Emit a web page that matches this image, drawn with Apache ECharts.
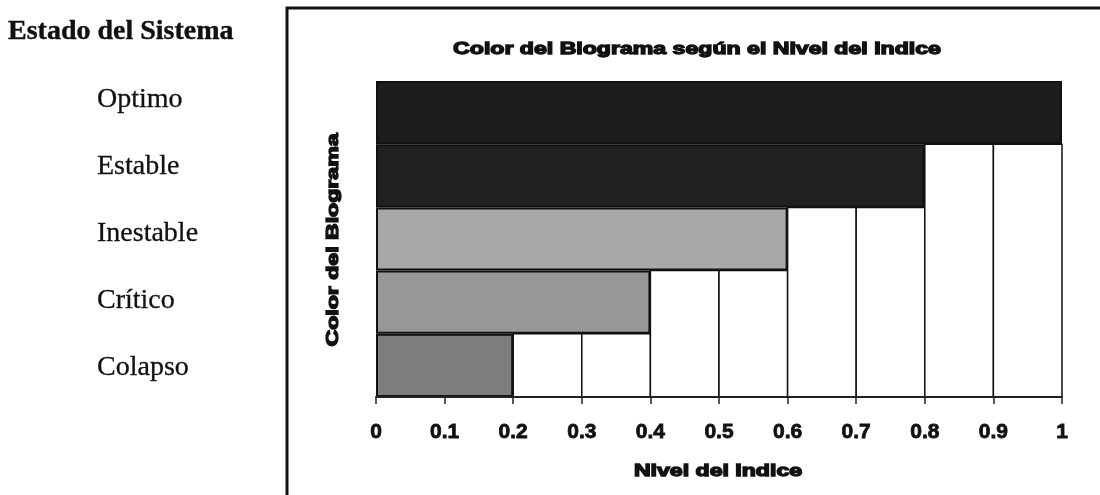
<!DOCTYPE html>
<html>
<head>
<meta charset="utf-8">
<script src="https://cdn.jsdelivr.net/npm/echarts@6/dist/echarts.min.js"></script>
<style>
  html, body { margin: 0; padding: 0; background: #fff; }
  #chart { width: 1100px; height: 495px; }
</style>
</head>
<body>
<div id="chart"></div>
<script>
// System states listed beside the chart (top to bottom)
const encabezado = 'Estado del Sistema';
const estados = ['Optimo', 'Estable', 'Inestable', 'Crítico', 'Colapso'];

// Chart rows, bottom to top, with the index level reached by each colour band
const categorias = ['Colapso', 'Crítico', 'Inestable', 'Estable', 'Optimo'];
const niveles = [0.2, 0.4, 0.6, 0.8, 1.0];
const coloresBarra = ['#7d7d7d', '#979797', '#a9a9a9', '#212121', '#1d1d1d'];

// x-axis ticks and the blank 0.1-wide cells beyond each band
const etiquetasX = ['0', '0.1', '0.2', '0.3', '0.4', '0.5', '0.6', '0.7', '0.8', '0.9', '1'];
const inicioCeldas = [0.2, 0.3, 0.4, 0.5, 0.6, 0.7, 0.8, 0.9];
const anchoCelda = 0.1;

const titulo = 'Color del Biograma según el Nivel del Indice';
const nombreEjeX = 'Nivel del Indice';
const nombreEjeY = 'Color del Biograma';

// Each blank cell rises through every row whose band ends at or before it
const celdas = inicioCeldas.map(s => [s, niveles.filter(v => v <= s + 1e-9).length]);

const chart = echarts.init(document.getElementById('chart'), null, { renderer: 'canvas' });

// heavy, widened sans text used inside the frame
const sansBold = { fontFamily: 'Liberation Sans', fontWeight: 'bold', fill: '#111', stroke: '#111', lineWidth: 1.3 };

const graficos = [
  // frame around the chart area
  { type: 'rect', shape: { x: 287, y: 8, width: 900, height: 600 },
    style: { fill: 'none', stroke: '#111', lineWidth: 3 }, z: 10 },
  { type: 'text', x: 8, y: 32,
    style: { text: encabezado, fontFamily: 'Liberation Serif', fontWeight: 'bold', fontSize: 28,
             fill: '#111', stroke: '#111', lineWidth: 0.4, textAlign: 'left', textVerticalAlign: 'middle' } },
  { type: 'text', x: 697, y: 49, scaleX: 1.4,
    style: Object.assign({ text: titulo, fontSize: 16.5, textAlign: 'center', textVerticalAlign: 'middle' }, sansBold) },
  { type: 'text', x: 718, y: 471, scaleX: 1.4,
    style: Object.assign({ text: nombreEjeX, fontSize: 16.5, textAlign: 'center', textVerticalAlign: 'middle' }, sansBold) },
  { type: 'text', x: 333, y: 240, rotation: Math.PI / 2, scaleX: 1.4,
    style: Object.assign({ text: nombreEjeY, fontSize: 16.5, textAlign: 'center', textVerticalAlign: 'middle' }, sansBold) }
];
const posY = [100, 167, 234, 301, 368];
estados.forEach((e, i) => {
  graficos.push({ type: 'text', x: 97, y: posY[i],
    style: { text: e, fontFamily: 'Liberation Serif', fontSize: 28, fill: '#111', stroke: '#111', lineWidth: 0.3,
             textAlign: 'left', textVerticalAlign: 'middle' } });
});

chart.setOption({
  animation: false,
  backgroundColor: '#fff',
  grid: { left: 376, right: 38, top: 81, bottom: 98 },
  xAxis: {
    type: 'value', min: 0, max: 1, interval: 0.1, z: 5,
    splitLine: { show: false },
    axisLine: { show: true, lineStyle: { color: '#222', width: 2 } },
    axisTick: { show: true, length: 7, lineStyle: { color: '#222', width: 1.5 } },
    axisLabel: {
      margin: 25, fontFamily: 'Liberation Sans', fontWeight: 'bold', fontSize: 21, color: '#111',
      textBorderColor: '#111', textBorderWidth: 0.8,
      formatter: v => etiquetasX[Math.round(v * 10)]
    }
  },
  yAxis: {
    type: 'category', data: categorias,
    axisLine: { show: false }, axisTick: { show: false }, axisLabel: { show: false },
    splitLine: { show: false }
  },
  series: [
    {
      type: 'custom',
      renderItem: (params, api) => {
        const x0 = api.value(0), filas = api.value(1);
        const banda = api.size([0, 1])[1];
        const pBase = api.coord([x0, 0]);
        const pTope = api.coord([x0 + anchoCelda, filas - 1]);
        const abajo = pBase[1] + banda / 2;
        const arriba = pTope[1] - banda / 2;
        return {
          type: 'rect',
          shape: { x: pBase[0], y: arriba, width: pTope[0] - pBase[0], height: abajo - arriba },
          style: { fill: '#fff', stroke: '#111', lineWidth: 1.5 }
        };
      },
      encode: { x: 0, y: 1 },
      data: celdas,
      z: 2
    },
    {
      type: 'bar',
      barWidth: '100%',
      data: niveles.map((v, i) => ({ value: v, itemStyle: { color: coloresBarra[i] } })),
      itemStyle: { borderColor: '#111', borderWidth: 2 },
      z: 3
    }
  ],
  graphic: graficos
});
</script>
</body>
</html>
